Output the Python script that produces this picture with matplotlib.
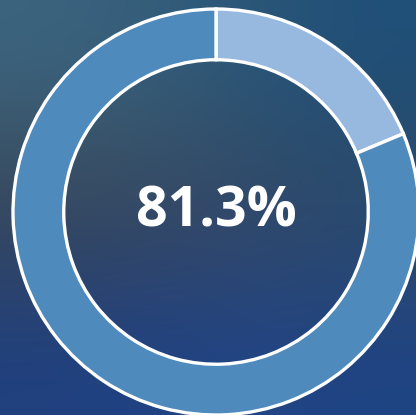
import numpy as np
import matplotlib.pyplot as plt

# donut values (percent)
labels = ["Complete", "Remaining"]
values = [81.3, 18.7]
colors = ["#4f8abd", "#97b8df"]
center_text = "81.3%"

# blurred backdrop, rough 3x3 colour grid
bg_hex = [
    ["#3c6580", "#2f5a79", "#1f4f78"],
    ["#3a4654", "#39475f", "#2e4a68"],
    ["#1f4080", "#204488", "#1f4484"],
]
bg = np.array([[[int(h[i:i + 2], 16) / 255 for i in (1, 3, 5)] for h in row] for row in bg_hex])

fig = plt.figure(figsize=(4.16, 4.15), dpi=100)
ax = fig.add_axes([0, 0, 1, 1])

# pixel geometry: centre (216, 212), radius ~203 px
xl, xr = -216 / 203, (416 - 216) / 203
yt, yb = 212 / 203, -(415 - 212) / 203
ax.imshow(bg, extent=[xl, xr, yb, yt], interpolation="bicubic", aspect="auto", zorder=0)

# light slice starts at 12 o'clock and runs clockwise
ax.pie(values[::-1], colors=colors[::-1], startangle=90, counterclock=False,
       radius=1.0, wedgeprops=dict(width=0.25, edgecolor="white", linewidth=2.4))

ax.text(0, 0, center_text, ha="center", va="center", color="white",
        fontsize=40, fontweight="bold", family=["Open Sans", "DejaVu Sans"])

ax.set_xlim(xl, xr)
ax.set_ylim(yb, yt)
ax.set_aspect("equal")
ax.axis("off")

fig.savefig("out.png", dpi=100)
